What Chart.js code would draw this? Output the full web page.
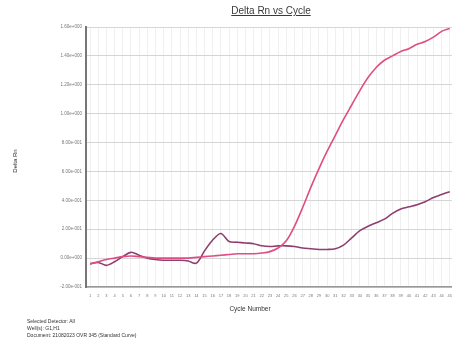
<!DOCTYPE html>
<html>
<head>
<meta charset="utf-8">
<title>Delta Rn vs Cycle</title>
<script src="https://cdn.jsdelivr.net/npm/chart.js@4.4.0/dist/chart.umd.min.js"></script>
<style>
    html, body { margin: 0; padding: 0; background: #fff; overflow: hidden; }
    #wrap { position: relative; width: 452px; height: 344px; overflow: hidden; font-family: "Liberation Sans", Arial, sans-serif; }
    #plot { position: absolute; left: 0; top: 0; }
    .title { position: absolute; top: 5px; left: 0; width: 542px; text-align: center; font-size: 10px; color: #3a3a3a; text-decoration: underline; }
    .xlabel { position: absolute; top: 305px; left: 200px; width: 100px; text-align: center; font-size: 6.5px; color: #333; }
    .ylabel { position: absolute; left: -10px; top: 158px; width: 50px; text-align: center; font-size: 6px; color: #333; transform: rotate(-90deg); }
    .info { position: absolute; left: 27px; top: 318px; font-size: 5px; line-height: 7px; color: #333; }
</style>
</head>
<body>
<div id="wrap">
    <canvas id="plot" width="458" height="344"></canvas>
    <div class="title">Delta Rn vs Cycle</div>
    <div class="xlabel">Cycle Number</div>
    <div class="ylabel">Delta Rn</div>
    <div class="info">
        Selected Detector: All<br>
        Well(s): G1,H1<br>
        Document: 21082023 OVR 345 (Standard Curve)
    </div>
</div>
<script>
// Cycles 1..45
const cycles = Array.from({ length: 45 }, (_, i) => String(i + 1));

// Well G1 - amplifying sample
const wellG1 = [
    -0.04, -0.025, -0.01, 0.0, 0.01, 0.015, 0.01, 0.005, 0.0, 0.0,
    0.0, 0.0, 0.0, 0.005, 0.01, 0.015, 0.02, 0.025, 0.03, 0.03,
    0.03, 0.035, 0.045, 0.07, 0.12, 0.22, 0.35, 0.49, 0.62, 0.74,
    0.85, 0.96, 1.06, 1.16, 1.25, 1.32, 1.37, 1.40, 1.43, 1.45,
    1.48, 1.50, 1.53, 1.57, 1.59
];

// Well H1 - late / weak sample
const wellH1 = [
    -0.04, -0.03, -0.05, -0.025, 0.01, 0.04, 0.02, 0.0, -0.01, -0.015,
    -0.015, -0.015, -0.02, -0.035, 0.05, 0.125, 0.17, 0.115, 0.11, 0.105,
    0.10, 0.085, 0.08, 0.085, 0.085, 0.08, 0.07, 0.065, 0.06, 0.06,
    0.065, 0.09, 0.14, 0.19, 0.22, 0.245, 0.27, 0.31, 0.34, 0.355,
    0.37, 0.39, 0.42, 0.44, 0.46
];

const yMin = -0.2;
const yMax = 1.6;
const yStep = 0.2;

function formatSci(v) {
    const r = Math.round(v * 100) / 100;
    if (r === 0) return '0.00e+000';
    const exp = Math.floor(Math.log10(Math.abs(r)));
    const mant = (r / Math.pow(10, exp)).toFixed(2);
    const sign = exp < 0 ? '-' : '+';
    return mant + 'e' + sign + String(Math.abs(exp)).padStart(3, '0');
}

new Chart(document.getElementById('plot'), {
    type: 'line',
    data: {
        labels: cycles,
        datasets: [
            {
                label: 'G1',
                data: wellG1,
                borderColor: 'rgb(222, 78, 130)',
                borderWidth: 1.6,
                pointRadius: 0,
                tension: 0.3
            },
            {
                label: 'H1',
                data: wellH1,
                borderColor: 'rgb(142, 62, 112)',
                borderWidth: 1.6,
                pointRadius: 0,
                tension: 0.3
            }
        ]
    },
    options: {
        responsive: false,
        animation: false,
        layout: { padding: { top: 27, left: 0, right: 0, bottom: 0 } },
        plugins: {
            legend: { display: false },
            tooltip: { enabled: false }
        },
        scales: {
            x: {
                offset: true,
                afterFit: (scale) => { scale.height = 57; },
                grid: { color: '#f0f0f0', drawTicks: false, offset: false },
                border: { color: '#999', width: 1.5 },
                ticks: {
                    autoSkip: false,
                    maxRotation: 0,
                    padding: 6,
                    color: '#777',
                    font: { size: 4, family: 'Liberation Sans' }
                }
            },
            y: {
                min: yMin,
                max: yMax,
                afterFit: (scale) => { scale.width = 86; },
                grid: { color: '#d6d6d6', drawTicks: false },
                border: { color: '#777', width: 2 },
                ticks: {
                    stepSize: yStep,
                    padding: 4,
                    color: '#777',
                    font: { size: 4.5, family: 'Liberation Sans' },
                    callback: (v) => formatSci(v)
                }
            }
        }
    }
});
</script>
</body>
</html>
